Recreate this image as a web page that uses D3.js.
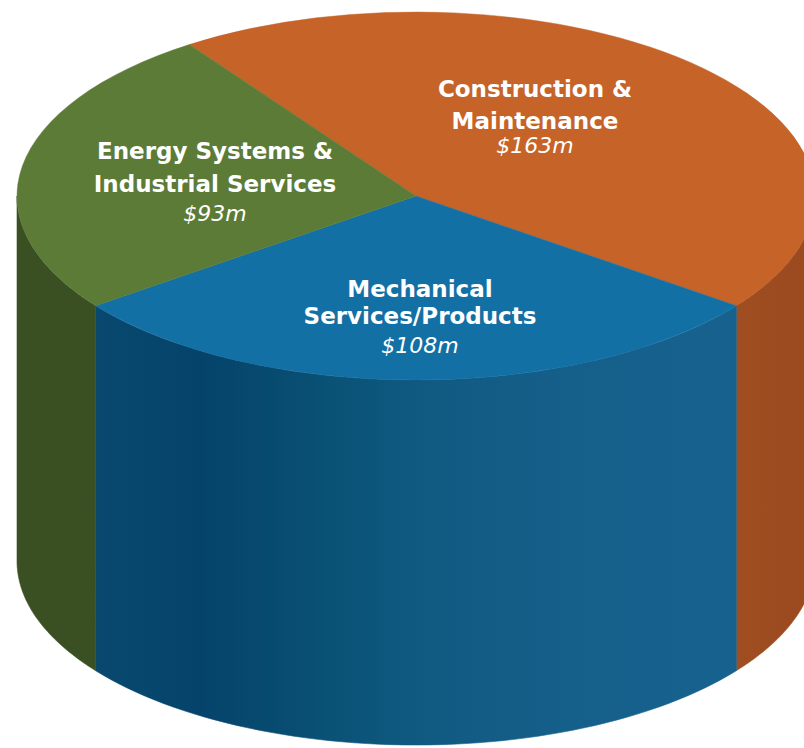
<!DOCTYPE html>
<html>
<head>
<meta charset="utf-8">
<script src="https://cdn.jsdelivr.net/npm/d3@7"></script>
<style>
  html, body { margin:0; padding:0; background:#fff; }
  svg { display:block; }
  text { font-family: "DejaVu Sans", "Open Sans", sans-serif; fill:#fff; }
</style>
</head>
<body>
<svg id="chart" width="804" height="748"></svg>
<script>
// data
const segments = ["Construction & Maintenance", "Mechanical Services/Products", "Energy Systems & Industrial Services"];
const values = [163, 108, 93];
const valueLabels = ["$163m", "$108m", "$93m"];
const labelLines = [["Construction &", "Maintenance"], ["Mechanical", "Services/Products"], ["Energy Systems &", "Industrial Services"]];
const topColors = ["#c66328", "#1370a4", "#5c7b36"];

// side shading, stops as [fraction across the cylinder, colour]
const sideStops = [
  [[0, "#a85224"], [0.85, "#a24f22"], [1, "#9a4a1f"]],
  [[0, "#0b4d73"], [0.23, "#05436a"], [0.4, "#0a5276"], [0.52, "#115a82"], [0.7, "#155f8b"], [1, "#17638f"]],
  [[0, "#3a5023"], [1, "#394d22"]]
];

const cx = 416, cy = 196, rx = 399, ry = 184, depth = 365;
const svg = d3.select("#chart");
const defs = svg.append("defs");

const total = d3.sum(values);
// put the middle slice at the front
const start = Math.PI - (values[0] + values[1]/2)/total*2*Math.PI;
const pie = d3.pie().sort(null).startAngle(start).endAngle(start + 2*Math.PI);
const arcs = pie(values);

const proj = (a, r=1) => [cx + rx*r*Math.sin(a), cy - ry*r*Math.cos(a)];

sideStops.forEach((stops, i)=>{
  const gr = defs.append("linearGradient").attr("id", "side"+i)
    .attr("gradientUnits","userSpaceOnUse")
    .attr("x1", cx-rx).attr("x2", cx+rx).attr("y1",0).attr("y2",0);
  stops.forEach(([o,c])=> gr.append("stop").attr("offset", o).attr("stop-color", c));
});

// side walls, only the front half is visible
const sides = svg.append("g").attr("class","sides");
arcs.forEach((d, i)=>{
  const segs = [];
  for (const k of [-1, 0, 1]){
    const s = Math.max(d.startAngle + k*2*Math.PI, Math.PI/2), e = Math.min(d.endAngle + k*2*Math.PI, 3*Math.PI/2);
    if (e > s) segs.push([s, e]);
  }
  segs.forEach(([s, e])=>{
    const n = 60;
    const topPts = d3.range(n+1).map(j => proj(s + (e-s)*j/n));
    const botPts = topPts.slice().reverse().map(([x,y]) => [x, y + depth]);
    sides.append("path")
      .attr("d", d3.line()(topPts.concat(botPts)) + "Z")
      .attr("fill", `url(#side${i})`)
      .attr("stroke", `url(#side${i})`).attr("stroke-width", 0.6);
  });
});

// top face
const arc = d3.arc().innerRadius(0).outerRadius(rx);
const topFace = svg.append("g").attr("transform", `translate(${cx},${cy}) scale(1,${ry/rx})`);
topFace.selectAll("path").data(arcs).enter().append("path")
  .attr("d", arc).attr("fill", (d,i)=> topColors[i])
  .attr("stroke", (d,i)=> topColors[i]).attr("stroke-width", 0.6);

// labels: x, first baseline, line gap, value baseline offset
const labelPos = [[535, 97, 32, 56], [420, 297, 27, 56], [215, 159, 33, 62]];
arcs.forEach((d, i)=>{
  const [lx, ly, gap, voff] = labelPos[i];
  const t = svg.append("g").attr("class","label");
  labelLines[i].forEach((line, j)=>{
    t.append("text").attr("x", lx).attr("y", ly + j*gap)
      .attr("text-anchor","middle").attr("font-size", 23).attr("font-weight", 700)
      .text(line);
  });
  t.append("text").attr("x", lx).attr("y", ly + voff)
    .attr("text-anchor","middle").attr("font-size", 22).attr("font-style","italic")
    .text(valueLabels[i]);
});
</script>
</body>
</html>
